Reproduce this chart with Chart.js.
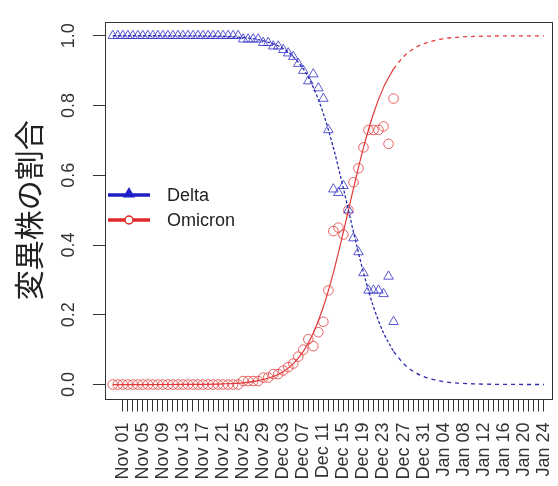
<!DOCTYPE html>
<html>
<head>
<meta charset="utf-8">
<script src="https://cdn.jsdelivr.net/npm/chart.js@4.4.0/dist/chart.umd.min.js"></script>
<style>
  body { margin: 0; background: #fff; }
  #chart { display: block; }
</style>
</head>
<body>
<canvas id="chart" width="558" height="486"></canvas>
<script>
// days are counted from Nov 01 (day 0); observations start on Oct 30
const firstObsDay = -2;

const deltaObs = [
  1.00, 1.00, 1.00, 1.00, 1.00, 1.00, 1.00, 1.00, 1.00, 1.00, 1.00, 1.00, 1.00,
  1.00, 1.00, 1.00, 1.00, 1.00, 1.00, 1.00, 1.00, 1.00, 1.00, 1.00, 1.00, 1.00,
  0.99, 0.99, 0.99, 0.99, 0.98, 0.98, 0.97, 0.97, 0.96, 0.95, 0.94,
  0.92, 0.90, 0.87, 0.89, 0.85, 0.82, 0.73,
  0.56, 0.55, 0.57, 0.50, 0.42, 0.38, 0.32,
  0.27, 0.27, 0.27, 0.26, 0.31, 0.18
];
const omicronObs = [
  0.00, 0.00, 0.00, 0.00, 0.00, 0.00, 0.00, 0.00, 0.00, 0.00, 0.00, 0.00, 0.00,
  0.00, 0.00, 0.00, 0.00, 0.00, 0.00, 0.00, 0.00, 0.00, 0.00, 0.00, 0.00, 0.00,
  0.01, 0.01, 0.01, 0.01, 0.02, 0.02, 0.03, 0.03, 0.04, 0.05, 0.06,
  0.08, 0.10, 0.13, 0.11, 0.15, 0.18, 0.27,
  0.44, 0.45, 0.43, 0.50, 0.58, 0.62, 0.68,
  0.73, 0.73, 0.73, 0.74, 0.69, 0.82
];

// fitted curves over the observed period
const fitDays =    [-2, 4, 10, 16, 20, 24, 27, 30, 32, 34, 36, 38, 40, 42, 44, 45, 46, 48, 50, 52, 54];
const deltaFit =   [1.0, 1.0, 0.9998, 0.9993, 0.998, 0.995, 0.989, 0.977, 0.963, 0.940, 0.905, 0.852, 0.777, 0.679, 0.562, 0.500, 0.438, 0.321, 0.223, 0.148, 0.095];
const omicronFit = [0.0, 0.0, 0.0002, 0.0007, 0.002, 0.005, 0.011, 0.023, 0.037, 0.060, 0.095, 0.148, 0.223, 0.321, 0.438, 0.500, 0.562, 0.679, 0.777, 0.852, 0.905];

// projection after the last observation
const projDays =    [54, 56, 58, 60, 63, 66, 70, 75, 80, 84];
const deltaProj =   [0.095, 0.060, 0.037, 0.023, 0.011, 0.005, 0.002, 0.0006, 0.0002, 0.0001];
const omicronProj = [0.905, 0.940, 0.963, 0.977, 0.989, 0.995, 0.998, 0.9994, 0.9998, 0.9999];

const tickLabels = [
  'Nov 01', 'Nov 05', 'Nov 09', 'Nov 13', 'Nov 17', 'Nov 21', 'Nov 25', 'Nov 29',
  'Dec 03', 'Dec 07', 'Dec 11', 'Dec 15', 'Dec 19', 'Dec 23', 'Dec 27', 'Dec 31',
  'Jan 04', 'Jan 08', 'Jan 12', 'Jan 16', 'Jan 20', 'Jan 24'
];
const lastTickDay = 84;
const yTitle = '変異株の割合';

const BLUE = '#2b2bb0';
const RED = '#e03a3a';

const pts = (days, vals) => vals.map((v, i) => ({ x: days[i], y: v }));
const obsPts = vals => vals.map((v, i) => ({ x: firstObsDay + i, y: v }));

// box around the plot + legend drawn like the R base graphics version
const boxAndLegend = {
  id: 'boxAndLegend',
  afterDraw(chart) {
    const { ctx, chartArea: a } = chart;
    ctx.save();
    ctx.strokeStyle = '#333';
    ctx.lineWidth = 1;
    ctx.strokeRect(Math.round(a.left) + 0.5, Math.round(a.top) + 0.5,
      Math.round(a.right - a.left), Math.round(a.bottom - a.top));

    const items = [
      { label: 'Delta', color: '#1f1fc8', y: 195, style: 'triangle' },
      { label: 'Omicron', color: '#e02828', y: 220, style: 'circle' }
    ];
    items.forEach(it => {
      ctx.strokeStyle = it.color;
      ctx.lineWidth = 3.5;
      ctx.beginPath();
      ctx.moveTo(108, it.y);
      ctx.lineTo(150, it.y);
      ctx.stroke();
      ctx.lineWidth = 1.5;
      if (it.style === 'triangle') {
        ctx.fillStyle = it.color;
        Chart.helpers.drawPoint(ctx, { pointStyle: 'triangle', radius: 5.5, borderWidth: 1.5 }, 129, it.y - 1);
        ctx.fill();
      } else {
        ctx.fillStyle = '#fff';
        Chart.helpers.drawPoint(ctx, { pointStyle: 'circle', radius: 4, borderWidth: 1.5 }, 129, it.y);
      }
      ctx.fillStyle = '#222';
      ctx.font = '18px "Liberation Sans", Arial, sans-serif';
      ctx.textBaseline = 'middle';
      ctx.textAlign = 'left';
      ctx.fillText(it.label, 167, it.y + 1);
    });
    ctx.restore();
  }
};

new Chart(document.getElementById('chart'), {
  type: 'scatter',
  data: {
    datasets: [
      {
        label: 'Delta fit', data: pts(fitDays, deltaFit), showLine: true,
        borderColor: BLUE, borderWidth: 1.3, borderDash: [3, 2], pointRadius: 0,
        cubicInterpolationMode: 'monotone'
      },
      {
        label: 'Omicron fit', data: pts(fitDays, omicronFit), showLine: true,
        borderColor: RED, borderWidth: 1.2, pointRadius: 0,
        cubicInterpolationMode: 'monotone'
      },
      {
        label: 'Delta projection', data: pts(projDays, deltaProj), showLine: true,
        borderColor: BLUE, borderWidth: 1.3, borderDash: [4, 4], pointRadius: 0,
        cubicInterpolationMode: 'monotone'
      },
      {
        label: 'Omicron projection', data: pts(projDays, omicronProj), showLine: true,
        borderColor: RED, borderWidth: 1.3, borderDash: [4, 4], pointRadius: 0,
        cubicInterpolationMode: 'monotone'
      },
      {
        label: 'Delta', data: obsPts(deltaObs),
        pointStyle: 'triangle', pointRadius: 5.5, borderWidth: 1,
        borderColor: 'rgba(60,60,205,0.85)', backgroundColor: 'rgba(0,0,0,0)'
      },
      {
        label: 'Omicron', data: obsPts(omicronObs),
        pointStyle: 'circle', pointRadius: 4.8, borderWidth: 1,
        borderColor: 'rgba(228,70,70,0.85)', backgroundColor: 'rgba(0,0,0,0)'
      }
    ]
  },
  options: {
    responsive: false,
    animation: false,
    layout: { padding: { top: 14, right: 3, left: 0, bottom: 0 } },
    plugins: { legend: { display: false }, tooltip: { enabled: false } },
    scales: {
      x: {
        type: 'linear',
        min: -3.55,
        max: 85.5,
        border: { display: false },
        grid: { drawOnChartArea: false, drawTicks: true, tickLength: 13, color: '#333' },
        afterBuildTicks: scale => {
          scale.ticks = scale.ticks.filter(t => t.value >= 0 && t.value <= lastTickDay);
        },
        afterFit: scale => {
          scale.height = 87.5;
          scale.paddingLeft = 0;
          scale.paddingRight = 0;
        },
        ticks: {
          stepSize: 1,
          includeBounds: false,
          autoSkip: false,
          minRotation: 90,
          maxRotation: 90,
          padding: 11,
          color: '#333',
          font: { family: '"Liberation Sans", Arial, sans-serif', size: 18 },
          callback: v => (v >= 0 && v % 4 === 0) ? tickLabels[v / 4] : ''
        }
      },
      y: {
        min: -0.04,
        max: 1.04,
        border: { display: false },
        grid: { drawOnChartArea: false, drawTicks: true, tickLength: 12, color: '#333' },
        afterFit: scale => { scale.width = 105; },
        ticks: {
          stepSize: 0.2,
          includeBounds: false,
          minRotation: 90,
          maxRotation: 90,
          crossAlign: 'center',
          padding: 11,
          color: '#333',
          font: { family: '"Liberation Sans", Arial, sans-serif', size: 18 },
          callback: v => v.toFixed(1)
        },
        title: {
          display: true,
          text: yTitle,
          color: '#222',
          padding: { top: 11, bottom: 0 },
          font: { family: '"Noto Sans CJK JP", sans-serif', size: 30 }
        }
      }
    }
  },
  plugins: [boxAndLegend]
});
</script>
</body>
</html>
